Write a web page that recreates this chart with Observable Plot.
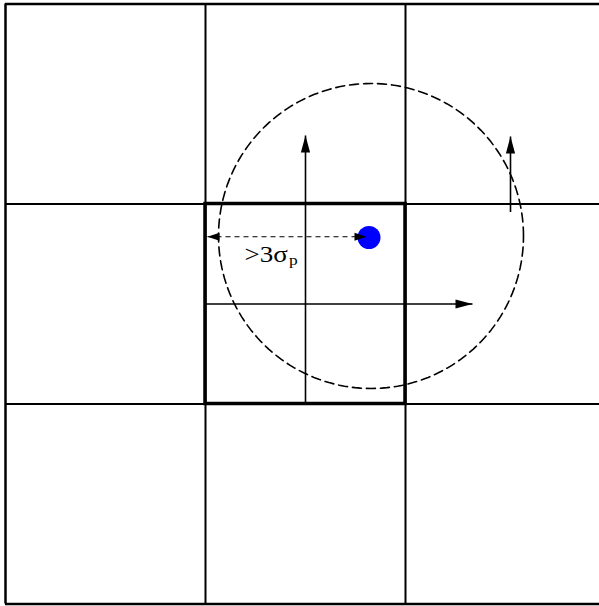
<!DOCTYPE html>
<html>
<head>
<meta charset="utf-8">
<script src="https://cdn.jsdelivr.net/npm/d3@7"></script>
<script src="https://cdn.jsdelivr.net/npm/@observablehq/plot@0.6"></script>
<style>
  html, body { margin: 0; padding: 0; background: #fff; }
  svg { display: block; }
</style>
</head>
<body>
<div id="chart"></div>
<script>
// Grid lines (cell boundaries, in cell units)
const gridLines = [0, 1, 2, 3];
// Central (highlighted) cell
const centerCell = [{x1: 1, x2: 2, y1: 1, y2: 2}];
// Solid arrows: start, tip, heading in degrees
const solidArrows = [
  {x1: 1.5, y1: 1.0, x2: 1.5, y2: 2.3425, angle: 0},
  {x1: 1.0, y1: 1.5, x2: 2.335, y2: 1.5, angle: 90},
  {x1: 2.525, y1: 1.96, x2: 2.525, y2: 2.3375, angle: 0}
];
// Particle position and its 3-sigma radius
const particle = [{x: 1.8175, y: 1.8325}];
const circleCenter = {x: 1.8275, y: 1.84};
const circleRadius = 0.7625;
// Dashed double arrow (distance marker)
const dashArrow = [{x1: 1.01, y1: 1.836, x2: 1.805, y2: 1.836}];
const dashHeads = [
  {x: 1.01, y: 1.836, angle: -90},
  {x: 1.805, y: 1.836, angle: 90}
];
// Label
const labels = [{x: 1.195, y: 1.7475, text: ">3σ"}];
const subLabels = [{x: 1.417, y: 1.7165, text: "p"}];

const circlePts = d3.range(0, 361, 2).map(a => ({
  x: circleCenter.x + circleRadius * Math.cos(a * Math.PI / 180),
  y: circleCenter.y + circleRadius * Math.sin(a * Math.PI / 180)
}));

const head = (len, half) => ({
  draw(ctx) {
    ctx.moveTo(0, 0);
    ctx.lineTo(-half, len);
    ctx.lineTo(half, len);
    ctx.closePath();
  }
});

// stretch text horizontally like the reference's wide serif lettering
const stretch = (sx) => (index, scales, values, dims, context, next) => {
  const g = next(index, scales, values, dims, context);
  d3.select(g).selectAll("text").attr("transform", function () {
    return (this.getAttribute("transform") || "") + ` scale(${sx},1)`;
  });
  return g;
};

const chart = Plot.plot({
  width: 599,
  height: 606,
  margin: 0,
  x: {domain: [0, 3], range: [5, 605], axis: null},
  y: {domain: [0, 3], range: [603.5, 3.5], axis: null},
  marks: [
    Plot.ruleX(gridLines, {x: d => d, y1: 0, y2: 3, stroke: "black", strokeWidth: d => (d === 0 || d === 3) ? 2.5 : 2}),
    Plot.ruleY(gridLines, {y: d => d, x1: 0, x2: 3, stroke: "black", strokeWidth: d => (d === 0 || d === 3) ? 2.5 : 2}),
    Plot.rect(centerCell, {x1: "x1", x2: "x2", y1: "y1", y2: "y2", fill: "none", stroke: "black", strokeWidth: 3.5}),
    Plot.link(solidArrows, {x1: "x1", y1: "y1", x2: "x2", y2: "y2", stroke: "black", strokeWidth: 1.6}),
    Plot.dot(solidArrows, {x: "x2", y: "y2", rotate: "angle", symbol: head(17, 4.6), fill: "black", stroke: "none"}),
    Plot.line(circlePts, {x: "x", y: "y", stroke: "black", strokeWidth: 1.6, strokeDasharray: "9,5"}),
    Plot.link(dashArrow, {x1: "x1", y1: "y1", x2: "x2", y2: "y2", stroke: "black", strokeWidth: 1.1, strokeDasharray: "5,4"}),
    Plot.dot(particle, {x: "x", y: "y", r: 11.5, fill: "#0000ff", stroke: "none"}),
    Plot.dot(dashHeads, {x: "x", y: "y", rotate: "angle", symbol: head(12, 4), fill: "black", stroke: "none"}),
    Plot.text(labels, {x: "x", y: "y", text: "text", textAnchor: "start", fontFamily: "Liberation Serif", fontSize: 22.5, fill: "black", render: stretch(1.2)}),
    Plot.text(subLabels, {x: "x", y: "y", text: "text", textAnchor: "start", fontFamily: "Liberation Serif", fontSize: 14.5, fill: "black", render: stretch(1.2)})
  ]
});
document.getElementById("chart").appendChild(chart);
</script>
</body>
</html>
